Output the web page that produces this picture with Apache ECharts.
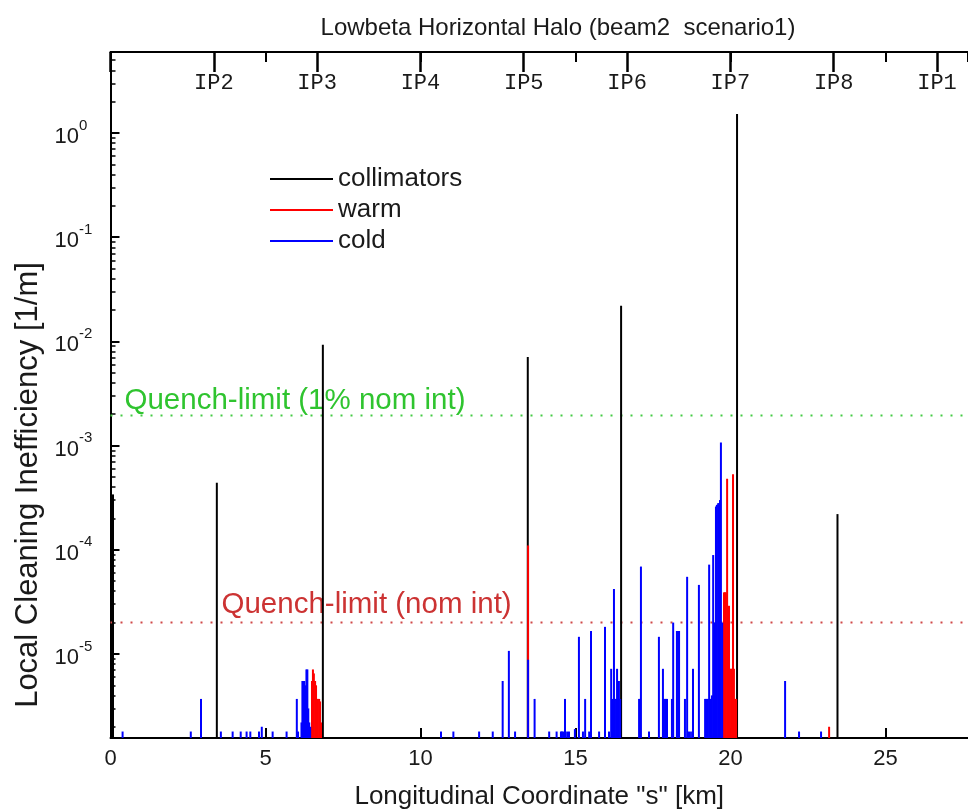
<!DOCTYPE html>
<html>
<head>
<meta charset="utf-8">
<script src="https://cdn.jsdelivr.net/npm/echarts@6/dist/echarts.min.js"></script>
<style>
  html, body { margin: 0; padding: 0; background: #fff; }
  #chart { width: 968px; height: 810px; }
</style>
</head>
<body>
<div id="chart"></div>
<script>
// axis ranges: s in km, inefficiency in 1/m
const X_MIN = 0;
const X_MAX = 27.66;
const Y_MIN = 1.56e-6;
const Y_MAX = 6.0;

// interaction points on the top axis (equally spaced around the ring)
const IP_SPACING = 3.3325;
const ipNames = ['IP2', 'IP3', 'IP4', 'IP5', 'IP6', 'IP7', 'IP8', 'IP1'];

const seriesNames = ['collimators', 'warm', 'cold'];

// [s (km), local inefficiency (1/m)]
const collimators = [
  [0.08, 3.4e-4], [3.43, 4.4e-4], [6.85, 9.3e-3], [13.46, 7.1e-3],
  [16.47, 2.2e-2], [20.21, 1.52], [23.45, 2.2e-4]
];

const warm = [
  [6.50, 5.5e-6], [6.53, 7.1e-6], [6.56, 6.5e-6], [6.60, 5.5e-6], [6.63, 5.0e-6],
  [6.66, 3.7e-6], [6.69, 3.7e-6], [6.73, 3.7e-6], [6.76, 3.5e-6], [6.79, 2.2e-6],
  [13.47, 1.1e-4],
  [19.76, 7.2e-6], [19.79, 3.9e-5], [19.82, 3.9e-5], [19.85, 3.9e-5], [19.89, 4.8e-4],
  [19.92, 7.2e-6], [19.95, 2.9e-5], [19.98, 7.2e-6], [20.02, 7.2e-6], [20.05, 7.2e-6],
  [20.08, 5.3e-4], [20.11, 7.2e-6], [20.15, 3.7e-6], [20.18, 3.7e-6],
  [23.18, 2.0e-6]
];

const cold = [
  [0.39, 1.8e-6], [2.59, 1.8e-6], [2.92, 3.7e-6],
  [3.56, 1.8e-6], [3.94, 1.8e-6], [4.20, 1.8e-6], [4.39, 1.8e-6], [4.51, 1.8e-6],
  [4.79, 1.8e-6], [4.88, 2.0e-6], [5.23, 1.8e-6], [5.68, 1.8e-6],
  [6.01, 3.7e-6], [6.05, 1.8e-6], [6.16, 2.2e-6], [6.19, 5.5e-6], [6.22, 5.5e-6],
  [6.25, 5.5e-6], [6.29, 5.0e-6], [6.32, 7.1e-6], [6.35, 7.1e-6], [6.38, 3.0e-6],
  [6.41, 2.2e-6], [6.44, 2.0e-6],
  [10.66, 1.8e-6], [11.06, 1.8e-6], [11.89, 1.8e-6], [12.33, 1.8e-6], [12.65, 5.5e-6],
  [12.85, 1.07e-5], [13.05, 1.8e-6], [13.47, 8.8e-6], [13.68, 3.7e-6],
  [14.15, 1.8e-6], [14.39, 1.8e-6], [14.53, 1.8e-6], [14.56, 1.8e-6], [14.60, 1.8e-6],
  [14.66, 3.7e-6], [14.73, 1.8e-6], [14.79, 1.8e-6], [14.98, 1.9e-6],
  [15.11, 1.46e-5], [15.24, 1.8e-6], [15.31, 3.7e-6], [15.44, 1.8e-6], [15.50, 1.66e-5],
  [15.76, 1.8e-6], [15.95, 1.82e-5], [16.08, 1.8e-6],
  [16.15, 7.2e-6], [16.18, 3.7e-6], [16.24, 4.2e-5], [16.27, 3.7e-6], [16.31, 3.7e-6],
  [16.34, 7.2e-6], [16.37, 3.7e-6], [16.40, 5.5e-6], [16.44, 3.7e-6],
  [17.05, 3.7e-6], [17.08, 3.7e-6], [17.11, 6.9e-5], [17.37, 1.8e-6], [17.69, 1.46e-5],
  [17.82, 7.2e-6], [17.85, 3.7e-6], [17.89, 3.7e-6], [17.92, 3.7e-6], [17.95, 3.7e-6],
  [18.11, 3.7e-6], [18.15, 2.0e-5], [18.27, 1.66e-5], [18.31, 1.66e-5], [18.34, 1.66e-5],
  [18.53, 3.7e-6], [18.60, 5.5e-5], [18.63, 1.8e-6], [18.69, 1.8e-6], [18.76, 1.8e-6],
  [18.79, 7.2e-6], [18.98, 4.6e-5],
  [19.18, 3.7e-6], [19.21, 3.7e-6], [19.24, 3.7e-6], [19.27, 3.7e-6], [19.31, 7.2e-5],
  [19.34, 3.7e-6], [19.37, 3.7e-6], [19.40, 4.0e-6], [19.44, 8.9e-5], [19.47, 2.0e-5],
  [19.50, 2.0e-5], [19.53, 2.6e-4], [19.56, 2.7e-4], [19.60, 2.8e-4], [19.63, 2.8e-4],
  [19.66, 3.0e-4], [19.69, 1.07e-3], [19.73, 2.0e-5],
  [21.76, 5.5e-6], [22.21, 1.8e-6], [22.92, 1.8e-6]
];

// quench limits (1/m)
const quenchNominal = 2.0e-5;
const quenchOnePercent = 1.95e-3;

const FONT = 'Liberation Sans';

// vertical stem from the bottom of the plot up to the value
function stem(color) {
  return function (params, api) {
    const top = api.coord([api.value(0), api.value(1)]);
    const base = api.coord([api.value(0), Y_MIN]);
    return {
      type: 'line',
      shape: { x1: top[0], y1: base[1], x2: top[0], y2: top[1] },
      style: { stroke: color, lineWidth: 2 }
    };
  };
}

// dotted horizontal limit across the whole axis, labelled at its start
function limitLine(name, value, lineColor, textColor, offsetX, offsetY) {
  return {
    name: name,
    type: 'line',
    silent: true,
    symbol: 'circle',
    symbolSize: 0,
    lineStyle: { color: lineColor, type: [2, 8], width: 2 },
    itemStyle: { color: lineColor },
    z: 1,
    data: [
      {
        value: [X_MIN, value],
        label: {
          show: true,
          position: 'top',
          align: 'left',
          verticalAlign: 'bottom',
          offset: [offsetX, offsetY],
          distance: 0,
          formatter: name,
          color: textColor,
          fontFamily: FONT,
          fontSize: 29.5
        }
      },
      { value: [X_MAX, value], label: { show: false } }
    ]
  };
}

const colors = ['#000000', '#ff0000', '#0000ff'];
const seriesData = [collimators, warm, cold];

const chart = echarts.init(document.getElementById('chart'));

const series = seriesNames.map((name, i) => ({
  name: name,
  type: 'custom',
  renderItem: stem(colors[i]),
  itemStyle: { color: colors[i] },
  encode: { x: 0, y: 1 },
  data: seriesData[i],
  silent: true
}));
series.push(limitLine('Quench-limit (1% nom int)', quenchOnePercent, '#44cc44', '#2fc42f', 14, 0));
series.push(limitLine('Quench-limit (nom int)', quenchNominal, '#d04848', '#cc3333', 111, -3));

chart.setOption({
  backgroundColor: '#fff',
  animation: false,
  title: {
    text: 'Lowbeta Horizontal Halo (beam2  scenario1)',
    left: 553,
    textAlign: 'center',
    top: 11,
    textStyle: { fontFamily: FONT, fontSize: 24, fontWeight: 'normal', color: '#1a1a1a' }
  },
  legend: {
    data: seriesNames,
    orient: 'vertical',
    left: 265,
    top: 161,
    icon: 'rect',
    itemWidth: 63,
    itemHeight: 2,
    itemGap: 5,
    textStyle: { fontFamily: FONT, fontSize: 26, color: '#1a1a1a', lineHeight: 24 }
  },
  grid: { left: 110.5, right: 0, top: 52, bottom: 72, containLabel: false, outerBoundsMode: 'none' },
  xAxis: [
    {
      type: 'value',
      position: 'bottom',
      min: X_MIN,
      max: X_MAX,
      interval: 5,
      name: 'Longitudinal Coordinate "s" [km]',
      nameLocation: 'middle',
      nameGap: 46,
      nameTextStyle: { fontFamily: FONT, fontSize: 26, color: '#1a1a1a' },
      axisLine: { lineStyle: { color: '#000', width: 2 } },
      axisTick: { inside: true, length: 10, lineStyle: { color: '#000', width: 2 } },
      axisLabel: { fontFamily: FONT, fontSize: 22, color: '#1a1a1a', margin: 10, showMaxLabel: false },
      splitLine: { show: false }
    },
    {
      type: 'value',
      position: 'top',
      min: X_MIN,
      max: X_MAX,
      interval: 5,
      axisLine: { lineStyle: { color: '#000', width: 2 } },
      axisTick: { inside: true, length: 10, lineStyle: { color: '#000', width: 2 } },
      axisLabel: { show: false },
      splitLine: { show: false }
    },
    {
      type: 'value',
      position: 'top',
      min: X_MIN,
      max: X_MAX,
      interval: IP_SPACING,
      axisLine: { show: false },
      axisTick: { inside: true, length: 20, lineStyle: { color: '#000', width: 2.5 } },
      axisLabel: {
        inside: true,
        margin: 20,
        fontFamily: 'Liberation Mono',
        fontSize: 22,
        color: '#1a1a1a',
        formatter: function (v) {
          const k = Math.round(v / IP_SPACING);
          return k >= 1 && k <= ipNames.length ? ipNames[k - 1] : '';
        }
      },
      splitLine: { show: false }
    }
  ],
  yAxis: {
    type: 'log',
    logBase: 10,
    min: Y_MIN,
    max: Y_MAX,
    splitNumber: 10,
    name: 'Local Cleaning Inefficiency [1/m]',
    nameLocation: 'middle',
    nameGap: 64,
    nameTextStyle: { fontFamily: FONT, fontSize: 31, color: '#1a1a1a', padding: [0, 180, 0, 0] },
    axisLine: { lineStyle: { color: '#000', width: 2 } },
    axisTick: { inside: true, length: 9, lineStyle: { color: '#000', width: 2 } },
    minorTick: { show: true, splitNumber: 9, length: 5, lineStyle: { color: '#000', width: 1.5 } },
    splitLine: { show: false },
    minorSplitLine: { show: false },
    axisLabel: {
      align: 'left',
      margin: 56,
      formatter: function (v) {
        const e = Math.round(Math.log10(v));
        if (Math.abs(v - Math.pow(10, e)) > 1e-6 * v) return '';
        return '{b|10}{s|' + e + '}';
      },
      rich: {
        b: { fontFamily: FONT, fontSize: 22, color: '#1a1a1a', lineHeight: 30, verticalAlign: 'bottom' },
        s: { fontFamily: FONT, fontSize: 15, color: '#1a1a1a', lineHeight: 30, verticalAlign: 'top' }
      }
    }
  },
  series: series
});
</script>
</body>
</html>
